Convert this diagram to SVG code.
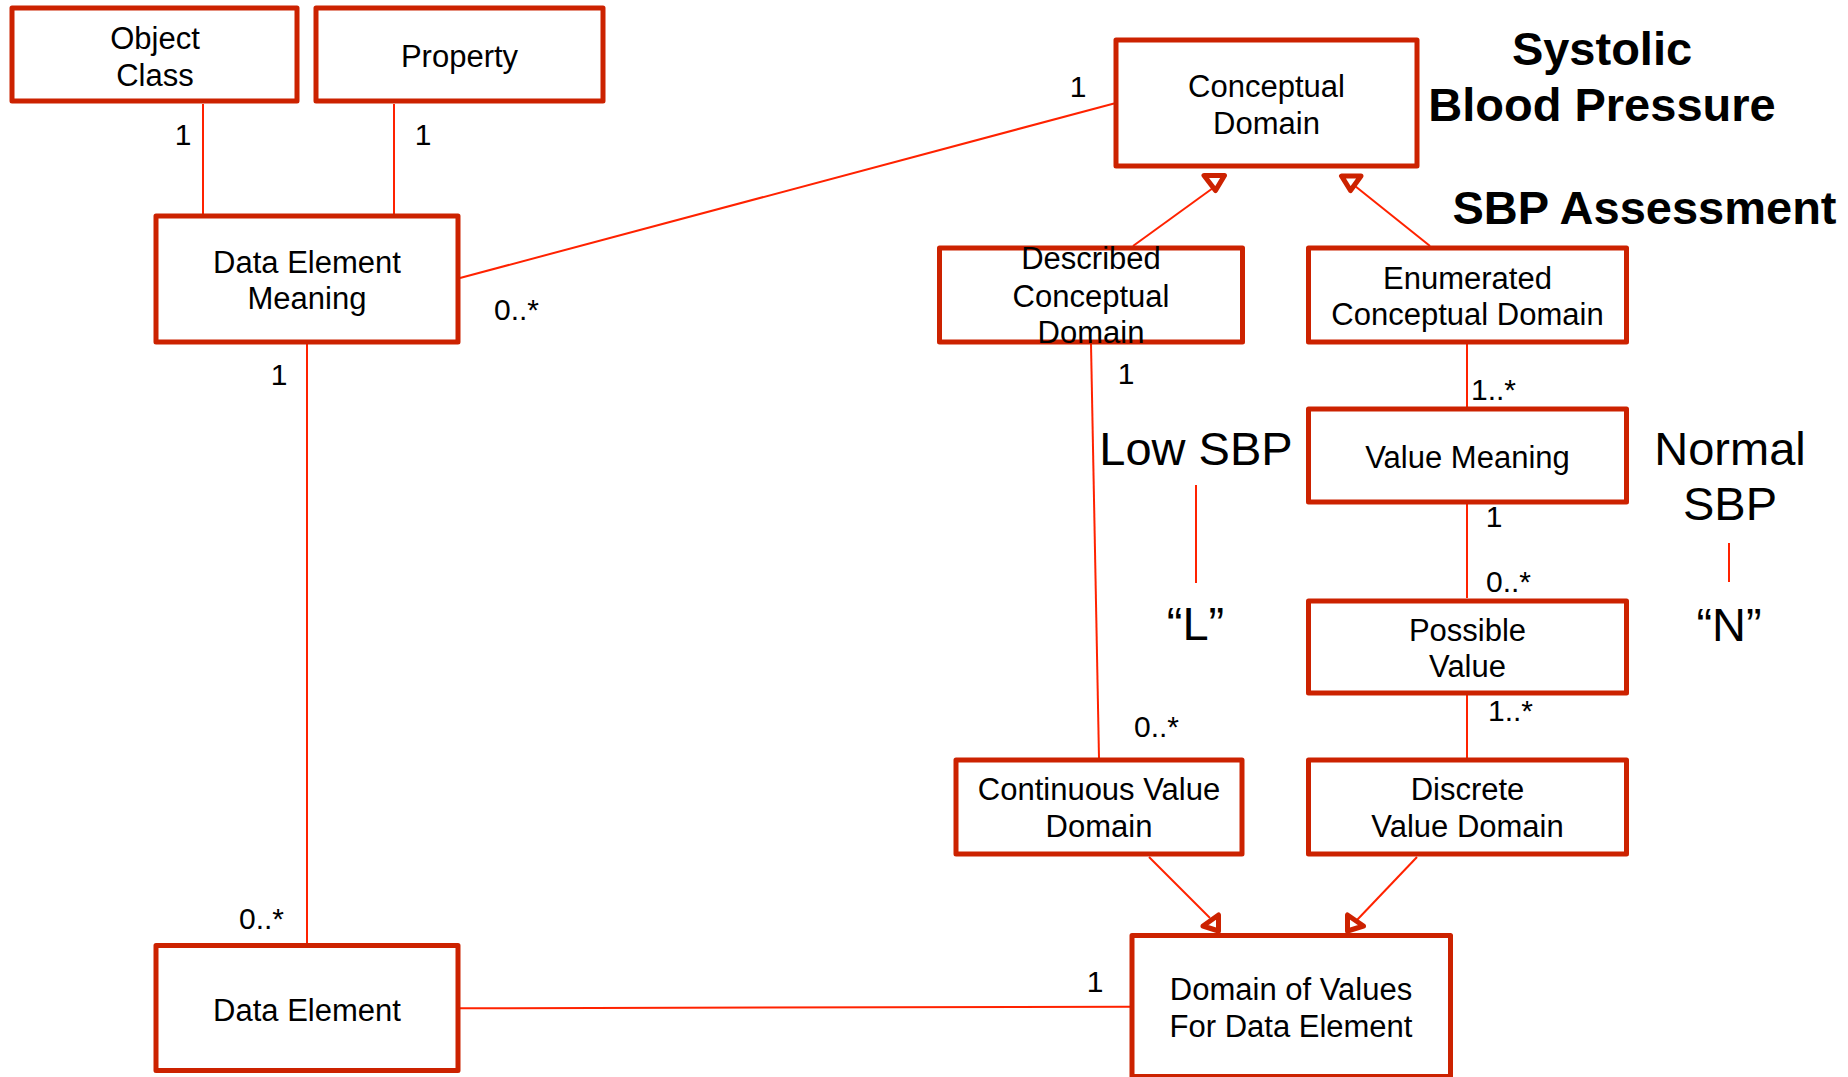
<svg xmlns="http://www.w3.org/2000/svg" width="1848" height="1077" viewBox="0 0 1848 1077">
  <style>
    .box { fill: #ffffff; stroke: #cc2200; stroke-width: 5; stroke-linejoin: round; }
    .lbl { font-family: "Liberation Sans", Arial, sans-serif; font-size: 31px; fill: #000; text-anchor: middle; }
    .mult { font-family: "Liberation Sans", Arial, sans-serif; font-size: 30px; fill: #000; }
    .mid { text-anchor: middle; }
    .big { font-family: "Liberation Sans", Arial, sans-serif; font-size: 47px; fill: #000; text-anchor: middle; }
    .title { font-family: "Liberation Sans", Arial, sans-serif; font-size: 47px; font-weight: bold; fill: #000; text-anchor: middle; }
    .conn { stroke: #ff2200; stroke-width: 2; fill: none; }
    .tri { fill: #ffffff; stroke: #cc2200; stroke-width: 5; stroke-linejoin: round; }
  </style>
  <rect width="1848" height="1077" fill="#ffffff"/>

  <!-- associations and generalisations -->
  <g id="connectors">
    <line class="conn" x1="203" y1="104" x2="203" y2="214"/>
    <line class="conn" x1="394" y1="104" x2="394" y2="214"/>
    <line class="conn" x1="460" y1="278" x2="1114" y2="103.5"/>
    <line class="conn" x1="307" y1="344" x2="307" y2="943"/>
    <line class="conn" x1="460" y1="1008.3" x2="1130" y2="1006.7"/>
    <line class="conn" x1="1133" y1="246" x2="1213" y2="188"/>
    <line class="conn" x1="1430" y1="246" x2="1355" y2="186"/>
    <line class="conn" x1="1091" y1="344" x2="1099" y2="758"/>
    <line class="conn" x1="1467" y1="344" x2="1467" y2="407"/>
    <line class="conn" x1="1467" y1="504" x2="1467" y2="598"/>
    <line class="conn" x1="1467" y1="695" x2="1467" y2="758"/>
    <line class="conn" x1="1149" y1="857" x2="1210" y2="918"/>
    <line class="conn" x1="1417" y1="857" x2="1357" y2="920"/>
    <line class="conn" x1="1196" y1="485" x2="1196" y2="583"/>
    <line class="conn" x1="1729" y1="543" x2="1729" y2="582"/>
    <polygon class="tri" points="1204,175.5 1224.5,175.5 1215.5,190.5"/>
    <polygon class="tri" points="1341.5,176 1361,176 1350.5,190.5"/>
    <polygon class="tri" points="1218.5,915 1218.5,931 1203,926"/>
    <polygon class="tri" points="1347.5,915 1347.5,931 1363.5,926"/>
  </g>

  <!-- multiplicities -->
  <g id="multiplicities">
    <text class="mult mid" x="183" y="145">1</text>
    <text class="mult mid" x="423" y="145">1</text>
    <text class="mult" x="494" y="320">0..*</text>
    <text class="mult mid" x="1078" y="97">1</text>
    <text class="mult mid" x="279" y="385">1</text>
    <text class="mult" x="239" y="929">0..*</text>
    <text class="mult mid" x="1095" y="992">1</text>
    <text class="mult mid" x="1126" y="384">1</text>
    <text class="mult" x="1471" y="400">1..*</text>
    <text class="mult mid" x="1494" y="527">1</text>
    <text class="mult" x="1486" y="592">0..*</text>
    <text class="mult" x="1488" y="721">1..*</text>
    <text class="mult" x="1134" y="737">0..*</text>
  </g>

  <g id="object-class">
    <rect class="box" x="12" y="8" width="285" height="93"/>
    <text class="lbl" x="155" y="49">Object</text>
    <text class="lbl" x="155" y="86">Class</text>
  </g>
  <g id="property">
    <rect class="box" x="316" y="8" width="287" height="93"/>
    <text class="lbl" x="459.5" y="67">Property</text>
  </g>
  <g id="data-element-meaning">
    <rect class="box" x="156" y="216" width="302" height="126"/>
    <text class="lbl" x="307" y="272.5">Data Element</text>
    <text class="lbl" x="307" y="309">Meaning</text>
  </g>
  <g id="conceptual-domain">
    <rect class="box" x="1116" y="40" width="301" height="126"/>
    <text class="lbl" x="1266.5" y="97">Conceptual</text>
    <text class="lbl" x="1266.5" y="134">Domain</text>
  </g>
  <g id="described-conceptual-domain">
    <rect class="box" x="939.5" y="248" width="303" height="94"/>
    <text class="lbl" x="1091" y="269">Described</text>
    <text class="lbl" x="1091" y="306.5">Conceptual</text>
    <text class="lbl" x="1091" y="343">Domain</text>
  </g>
  <g id="enumerated-conceptual-domain">
    <rect class="box" x="1308.5" y="248" width="318" height="94"/>
    <text class="lbl" x="1467.5" y="288.5">Enumerated</text>
    <text class="lbl" x="1467.5" y="325">Conceptual Domain</text>
  </g>
  <g id="value-meaning">
    <rect class="box" x="1308.5" y="409" width="318" height="93"/>
    <text class="lbl" x="1467.5" y="468">Value Meaning</text>
  </g>
  <g id="possible-value">
    <rect class="box" x="1308.5" y="601" width="318" height="92"/>
    <text class="lbl" x="1467.5" y="640.5">Possible</text>
    <text class="lbl" x="1467.5" y="677">Value</text>
  </g>
  <g id="continuous-value-domain">
    <rect class="box" x="956" y="760" width="286" height="94"/>
    <text class="lbl" x="1099" y="800">Continuous Value</text>
    <text class="lbl" x="1099" y="837">Domain</text>
  </g>
  <g id="discrete-value-domain">
    <rect class="box" x="1308.5" y="760" width="318" height="94"/>
    <text class="lbl" x="1467.5" y="800">Discrete</text>
    <text class="lbl" x="1467.5" y="837">Value Domain</text>
  </g>
  <g id="data-element">
    <rect class="box" x="156" y="945.5" width="302" height="125"/>
    <text class="lbl" x="307" y="1020.5">Data Element</text>
  </g>
  <g id="domain-of-values">
    <rect class="box" x="1132" y="935.5" width="318.5" height="141"/>
    <text class="lbl" x="1291" y="1000">Domain of Values</text>
    <text class="lbl" x="1291" y="1037">For Data Element</text>
  </g>

  <!-- example instance annotations -->
  <g id="annotations">
    <text class="title" x="1602" y="65">Systolic</text>
    <text class="title" x="1602" y="121">Blood Pressure</text>
    <text class="title" x="1644.5" y="224">SBP Assessment</text>
    <text class="big" x="1196" y="465">Low SBP</text>
    <text class="big" x="1195.5" y="640">“L”</text>
    <text class="big" x="1730" y="465">Normal</text>
    <text class="big" x="1730" y="520">SBP</text>
    <text class="big" x="1729" y="640.5">“N”</text>
  </g>
</svg>
